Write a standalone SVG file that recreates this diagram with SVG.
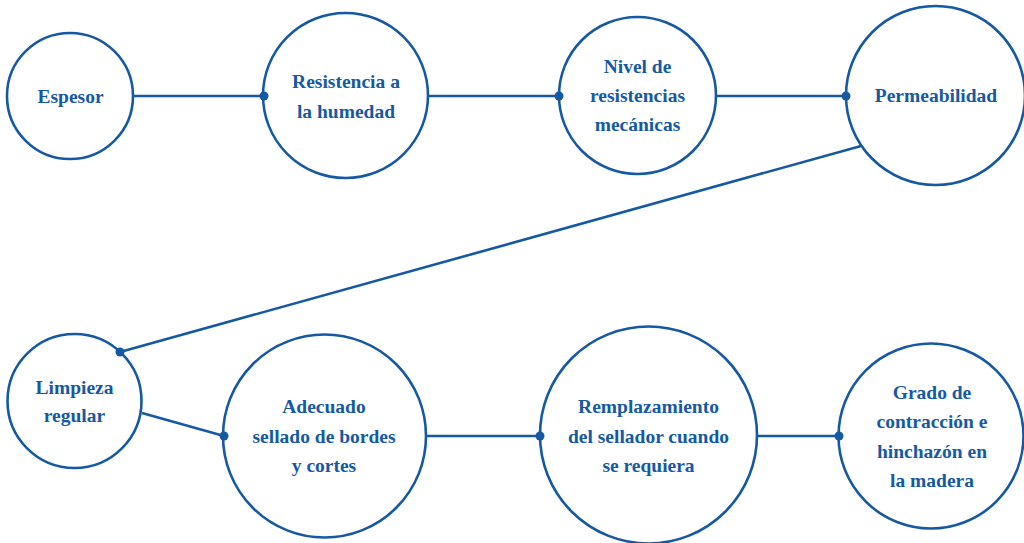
<svg xmlns="http://www.w3.org/2000/svg" width="1024" height="543" viewBox="0 0 1024 543">
<style>
.n{fill:#fff;stroke:#1659a3;stroke-width:2.6}
.c line{stroke:#1659a3;stroke-width:2.6}
.c circle{fill:#1659a3}
.t text{font-weight:bold;font-size:19.5px;fill:#1659a3;text-anchor:middle}
</style>
<rect width="1024" height="543" fill="#fff"/>
<g class="c" id="connectors">
<line x1="133" y1="96" x2="264" y2="96"/>
<line x1="428" y1="96" x2="559" y2="96"/>
<line x1="716" y1="96" x2="846" y2="96"/>
<line x1="861" y1="146" x2="120" y2="352"/>
<line x1="142" y1="413" x2="224" y2="436"/>
<line x1="426" y1="436" x2="540" y2="436"/>
<line x1="757" y1="436" x2="839" y2="436"/>
</g>
<g class="t" font-family="Liberation Serif, Times New Roman, serif">
<g id="espesor"><circle class="n" cx="70" cy="96" r="63"/><text x="70.5" y="103">Espesor</text></g>
<g id="resistencia"><circle class="n" cx="345.5" cy="95.5" r="82.5"/><text x="346" y="88">Resistencia a</text><text x="346" y="118">la humedad</text></g>
<g id="nivel"><circle class="n" cx="637.5" cy="95.5" r="78.5"/><text x="637.5" y="73">Nivel de</text><text x="637.5" y="102">resistencias</text><text x="637.5" y="131">mecánicas</text></g>
<g id="permeabilidad"><circle class="n" cx="935.5" cy="95.5" r="89.5"/><text x="936" y="102">Permeabilidad</text></g>
<g id="limpieza"><circle class="n" cx="74.5" cy="401" r="67"/><text x="74.5" y="394">Limpieza</text><text x="74.5" y="422">regular</text></g>
<g id="adecuado"><circle class="n" cx="324.5" cy="436" r="101.5"/><text x="324" y="413">Adecuado</text><text x="324" y="443">sellado de bordes</text><text x="324" y="472">y cortes</text></g>
<g id="remplazamiento"><circle class="n" cx="648.5" cy="435" r="108.5"/><text x="648.5" y="413">Remplazamiento</text><text x="648.5" y="443">del sellador cuando</text><text x="648.5" y="472">se requiera</text></g>
<g id="grado"><circle class="n" cx="931" cy="436" r="92.5"/><text x="932" y="399">Grado de</text><text x="932" y="428">contracción e</text><text x="932" y="458">hinchazón en</text><text x="932" y="487">la madera</text></g>
</g>
<g class="c" id="connector-dots">
<circle cx="264" cy="96" r="4.5"/>
<circle cx="559" cy="96" r="4.5"/>
<circle cx="846" cy="96" r="4.5"/>
<circle cx="120" cy="352" r="4.5"/>
<circle cx="224" cy="436" r="4.5"/>
<circle cx="540" cy="436" r="4.5"/>
<circle cx="839" cy="436" r="4.5"/>
</g>
</svg>
